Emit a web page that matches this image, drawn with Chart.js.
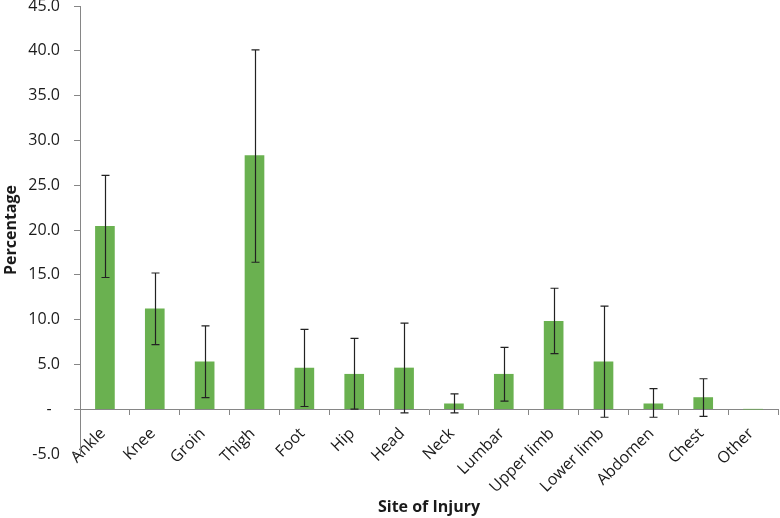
<!DOCTYPE html>
<html>
<head>
<meta charset="utf-8">
<script src="https://cdn.jsdelivr.net/npm/chart.js@4/dist/chart.umd.min.js"></script>
<style>
  html, body { margin:0; padding:0; background:#fff; }
  #wrap { width:780px; height:518px; position:relative; }
</style>
</head>
<body>
<div id="wrap"><canvas id="chart"></canvas></div>
<script>
// ─── Site of injury — percentage with error bars ────────────────────────────
const SITES = ['Ankle','Knee','Groin','Thigh','Foot','Hip','Head','Neck','Lumbar','Upper limb','Lower limb','Abdomen','Chest','Other'];
const PERCENT = [20.4, 11.2, 5.3, 28.3, 4.6, 3.9, 4.6, 0.6, 3.9, 9.8, 5.3, 0.6, 1.3, 0];
const ERR_LOW  = [14.7, 7.2, 1.3, 16.4, 0.3, 0.0, -0.4, -0.4, 0.9, 6.2, -0.9, -0.9, -0.8, null];
const ERR_HIGH = [26.1, 15.2, 9.3, 40.1, 8.9, 7.9, 9.6, 1.7, 6.9, 13.5, 11.5, 2.3, 3.4, null];
const Y_MIN = -5, Y_MAX = 45, Y_STEP = 5;

const FONT = "'Open Sans', 'DejaVu Sans', sans-serif";
const AXIS_GREY = '#868686';

function tickLabel(v) {
  if (Math.abs(v) < 1e-9) return '-  ';
  return v.toFixed(1);
}

// ── error bars drawn through the chart's own scales ─────────────────────────
const errorBars = {
  id: 'errorBars',
  afterDatasetsDraw(chart) {
    const { ctx, scales: { x, y } } = chart;
    const cap = 4;
    ctx.save();
    ctx.strokeStyle = '#222';
    ctx.lineWidth = 1.2;
    SITES.forEach((s, i) => {
      if (ERR_LOW[i] == null || ERR_HIGH[i] == null) return;
      const px = Math.round(x.getPixelForValue(i)) + 0.5;
      const yl = y.getPixelForValue(ERR_LOW[i]);
      const yh = y.getPixelForValue(ERR_HIGH[i]);
      ctx.beginPath();
      ctx.moveTo(px, yl); ctx.lineTo(px, yh);
      ctx.moveTo(px - cap, yl); ctx.lineTo(px + cap, yl);
      ctx.moveTo(px - cap, yh); ctx.lineTo(px + cap, yh);
      ctx.stroke();
    });
    ctx.restore();
  }
};

new Chart(document.getElementById('chart'), {
  type: 'bar',
  data: {
    labels: SITES,
    datasets: [{
      data: PERCENT,
      backgroundColor: '#6AB150',
      borderWidth: 0,
      barThickness: 19
    }]
  },
  options: {
    responsive: true,
    maintainAspectRatio: false,
    animation: false,
    layout: { padding: { left: 2, right: 2, top: 0, bottom: 64 } },
    plugins: { legend: { display: false }, tooltip: { enabled: false } },
    scales: {
      x: {
        position: { y: 0 },
        afterFit(scale) { scale.paddingLeft = 0; },
        grid: { display: true, drawOnChartArea: false, drawTicks: true, tickLength: 5, color: AXIS_GREY, offset: true },
        border: { display: true, color: AXIS_GREY, width: 1 },
        ticks: {
          autoSkip: false, minRotation: 45, maxRotation: 45, padding: 10, labelOffset: -2,
          color: '#1a1a1a', font: { family: FONT, size: 16 }
        },
        title: {
          display: true, text: 'Site of Injury', color: '#1a1a1a',
          font: { family: FONT, size: 16, weight: 'bold' }, padding: { top: -9, bottom: 0 }
        }
      },
      y: {
        min: Y_MIN, max: Y_MAX,
        afterFit(scale) { scale.paddingTop = 6; scale.width = 78; },
        grid: { display: true, drawOnChartArea: false, drawTicks: true, tickLength: 6, color: AXIS_GREY },
        border: { display: true, color: AXIS_GREY, width: 1 },
        ticks: {
          stepSize: Y_STEP, padding: 14, color: '#1a1a1a',
          font: { family: FONT, size: 16 },
          callback: tickLabel
        },
        title: {
          display: true, text: 'Percentage', color: '#1a1a1a',
          font: { family: FONT, size: 16, weight: 'bold' }, padding: { top: 0, bottom: 4 }
        }
      }
    }
  },
  plugins: [errorBars]
});
</script>
</body>
</html>
